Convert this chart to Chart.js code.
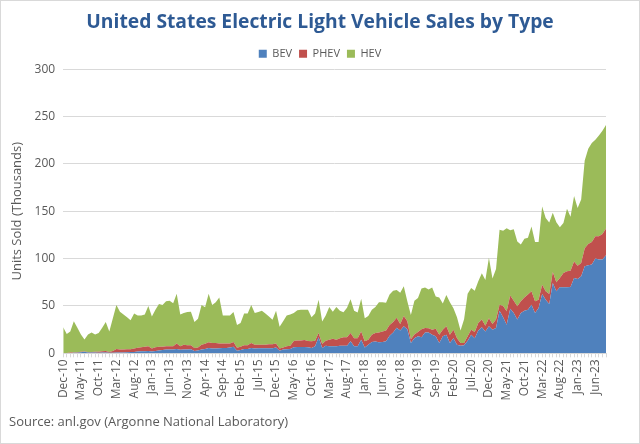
<!DOCTYPE html>
<html>
<head>
<meta charset="utf-8">
<script src="https://cdn.jsdelivr.net/npm/chart.js@4.4.0/dist/chart.umd.min.js"></script>
<style>
    html, body { margin: 0; padding: 0; background: #fff; }
    #wrap {
        width: 640px; height: 444px; box-sizing: border-box;
        border: 1px solid #d9d9d9; position: relative;
    }
    #chart { display: block; }
</style>
</head>
<body>
<div id="wrap"><canvas id="chart" width="638" height="442"></canvas></div>
<script>
// 月份類別：Dec-10 ~ Sep-23
const MONTHS = ['Jan', 'Feb', 'Mar', 'Apr', 'May', 'Jun', 'Jul', 'Aug', 'Sep', 'Oct', 'Nov', 'Dec'];
const labels = [];
for (let i = 0; i < 154; i++) {
    const m = (11 + i) % 12;
    const y = 10 + Math.floor((11 + i) / 12);
    labels.push(MONTHS[m] + '-' + String(y).padStart(2, '0'));
}

const yTicks = [0, 50, 100, 150, 200, 250, 300];

// 單位：千輛
const bev = [
    0.1, 0.1, 0.2, 0.5, 0.6, 1.2, 1.6, 1.0, 0.9, 1.0,
    0.7, 1.0, 1.0, 0.7, 0.7, 0.8, 1.0, 1.0, 1.2, 1.5,
    1.5, 2.0, 2.2, 2.3, 2.6, 2.0, 2.5, 3.0, 3.5, 4.0,
    4.0, 4.0, 4.6, 3.8, 4.0, 4.0, 4.2, 2.5, 3.0, 4.0,
    4.5, 5.6, 5.0, 5.0, 5.5, 5.6, 5.6, 6.3, 7.0, 2.8,
    3.5, 4.6, 4.6, 5.6, 5.0, 5.3, 5.3, 5.3, 5.3, 5.5,
    6.3, 2.8, 4.0, 4.2, 4.5, 6.5, 6.7, 6.7, 6.7, 6.5,
    5.6, 7.4, 17.0, 5.6, 8.0, 7.4, 7.4, 7.4, 8.0, 8.0,
    8.0, 12.7, 7.4, 7.4, 14.4, 6.3, 9.0, 12.0, 12.5, 11.6,
    12.0, 12.7, 18.5, 22.0, 27.0, 24.0, 28.5, 25.5, 11.0, 16.0,
    18.0, 17.0, 22.0, 22.0, 19.7, 18.0, 11.0, 18.0, 19.7, 11.0,
    16.0, 9.0, 8.0, 8.5, 13.4, 19.7, 16.0, 24.0, 27.5, 23.0,
    28.5, 25.0, 26.8, 45.0, 38.0, 30.3, 47.0, 42.6, 35.6, 42.6,
    45.0, 46.0, 51.4, 42.6, 47.9, 62.7, 56.7, 52.0, 74.3, 65.5,
    69.7, 69.7, 69.7, 70.0, 79.6, 78.5, 81.3, 91.9, 93.0, 93.7,
    100.0, 99.0, 99.0, 103.5
];

const phev = [
    0.3, 0.3, 0.6, 0.4, 0.6, 0.6, 0.4, 0.3, 0.6, 0.8,
    1.1, 1.3, 1.6, 0.6, 1.7, 3.7, 3.0, 3.0, 3.0, 2.8,
    3.5, 4.0, 4.3, 4.7, 5.0, 3.0, 4.0, 4.0, 3.5, 3.5,
    3.5, 3.5, 5.9, 3.6, 5.0, 4.5, 4.3, 3.1, 3.3, 5.0,
    5.5, 6.0, 6.0, 6.0, 5.0, 4.9, 4.9, 4.2, 5.0, 3.2,
    3.5, 3.9, 3.9, 5.4, 4.0, 3.7, 3.7, 3.7, 4.2, 4.0,
    4.2, 2.2, 2.3, 3.2, 3.5, 6.5, 6.8, 6.8, 7.3, 6.5,
    7.1, 6.0, 4.5, 4.3, 5.4, 7.0, 8.1, 7.0, 8.0, 9.0,
    9.0, 8.8, 8.6, 8.6, 8.6, 6.4, 5.4, 7.7, 9.0, 10.4,
    11.0, 11.3, 11.5, 11.0, 10.5, 7.0, 11.0, 8.5, 4.0, 4.0,
    4.5, 8.5, 4.8, 4.5, 5.3, 8.0, 8.7, 7.0, 8.8, 8.7,
    9.0, 7.0, 3.0, 2.5, 4.6, 5.3, 6.5, 8.0, 8.1, 6.0,
    8.5, 6.0, 8.8, 6.4, 12.0, 14.1, 14.0, 13.0, 14.0, 12.4,
    14.0, 16.0, 14.1, 12.4, 8.8, 9.8, 8.8, 10.7, 11.7, 9.5,
    9.9, 15.2, 16.9, 17.3, 17.4, 14.1, 14.1, 19.1, 22.5, 23.9,
    23.6, 24.6, 27.0, 28.2
];

const hev = [
    27.1, 20.1, 22.2, 33.1, 25.8, 18.2, 12.5, 18.7, 20.5, 18.2,
    19.7, 24.7, 30.4, 21.7, 34.6, 46.5, 40.0, 37.0, 33.8, 30.7,
    37.0, 34.0, 33.5, 34.0, 42.4, 34.0, 39.5, 45.0, 44.0, 47.5,
    48.1, 45.5, 52.5, 33.6, 33.6, 35.2, 35.5, 27.4, 30.3, 42.0,
    38.6, 51.4, 40.0, 43.0, 48.5, 29.5, 29.5, 29.5, 31.7, 24.0,
    25.0, 33.5, 33.5, 40.0, 33.6, 34.7, 36.0, 33.0, 29.5, 26.0,
    34.5, 23.0, 27.7, 32.6, 33.0, 29.6, 32.0, 32.5, 32.0, 33.0,
    25.3, 28.6, 35.2, 23.6, 26.6, 34.6, 28.5, 34.6, 29.0, 26.5,
    31.0, 35.5, 29.0, 27.0, 34.5, 24.3, 25.1, 26.3, 27.5, 32.0,
    31.0, 29.5, 32.0, 33.0, 29.5, 33.0, 31.3, 21.0, 25.5, 35.6,
    36.0, 43.0, 42.7, 41.0, 44.5, 34.0, 39.3, 27.5, 33.0, 34.3,
    22.5, 22.0, 13.0, 25.0, 45.0, 44.0, 43.5, 44.0, 48.9, 48.5,
    64.0, 48.0, 53.4, 79.2, 79.5, 87.6, 69.0, 75.4, 68.4, 60.0,
    62.0, 60.0, 68.5, 62.5, 60.8, 82.5, 77.5, 75.3, 62.5, 63.5,
    53.4, 52.8, 66.1, 56.9, 69.0, 60.9, 67.1, 92.7, 100.5, 104.4,
    101.9, 106.4, 109.0, 109.3
];

const COLORS = { bev: '#4f81bd', phev: '#c0504d', hev: '#9bbb59' };
const TEXT_GREY = '#595959';
const FONT = "'Open Sans', 'Noto Sans', sans-serif";

function areaSet(label, data, color, fill) {
    return {
        label: label,
        data: data,
        backgroundColor: color,
        borderColor: color,
        borderWidth: 0,
        pointRadius: 0,
        pointHoverRadius: 0,
        tension: 0,
        fill: fill
    };
}

new Chart(document.getElementById('chart'), {
    type: 'line',
    data: {
        labels: labels,
        datasets: [
            areaSet('BEV', bev, COLORS.bev, 'origin'),
            areaSet('PHEV', phev, COLORS.phev, '-1'),
            areaSet('HEV', hev, COLORS.hev, '-1')
        ]
    },
    options: {
        responsive: false,
        animation: false,
        layout: { padding: { left: 8, right: 8, top: 0, bottom: 5 } },
        plugins: {
            title: {
                display: true,
                text: 'United States Electric Light Vehicle Sales by Type',
                color: '#2e5a94',
                font: { family: FONT, size: 19.3, weight: 'bold' },
                padding: { top: 10, bottom: 7 }
            },
            subtitle: {
                display: true,
                position: 'bottom',
                align: 'start',
                text: 'Source: anl.gov (Argonne National Laboratory)',
                color: TEXT_GREY,
                font: { family: FONT, size: 13 },
                padding: { top: 12, bottom: 8, left: 14 }
            },
            legend: {
                display: true,
                position: 'top',
                labels: {
                    color: TEXT_GREY,
                    font: { family: FONT, size: 11 },
                    boxWidth: 8,
                    boxHeight: 8,
                    padding: 7
                }
            },
            tooltip: { enabled: false }
        },
        scales: {
            x: {
                offset: false,
                grid: {
                    drawOnChartArea: false,
                    drawTicks: true,
                    tickLength: 4,
                    color: '#d9d9d9'
                },
                border: { color: '#d9d9d9' },
                ticks: {
                    autoSkip: false,
                    maxRotation: 90,
                    minRotation: 90,
                    color: TEXT_GREY,
                    font: { family: FONT, size: 12 },
                    padding: 2,
                    callback: function(value, index) {
                        return index % 5 === 0 ? labels[index] : '';
                    }
                }
            },
            y: {
                stacked: true,
                min: yTicks[0],
                max: yTicks[yTicks.length - 1],
                grid: { color: '#d9d9d9', drawTicks: false },
                border: { display: false },
                ticks: {
                    stepSize: 50,
                    color: TEXT_GREY,
                    font: { family: FONT, size: 12 },
                    padding: 8
                },
                title: {
                    display: true,
                    text: 'Units Sold (Thousands)',
                    color: TEXT_GREY,
                    font: { family: FONT, size: 13 },
                    padding: { top: 0, bottom: 2 }
                }
            },
            // 右側留白，讓標題與圖例置中於整張圖
            yRight: {
                position: 'right',
                display: true,
                grid: { display: false },
                border: { display: false },
                ticks: { display: false },
                afterFit: function(scale) {
                    scale.width = 25;
                }
            }
        }
    }
});
</script>
</body>
</html>
